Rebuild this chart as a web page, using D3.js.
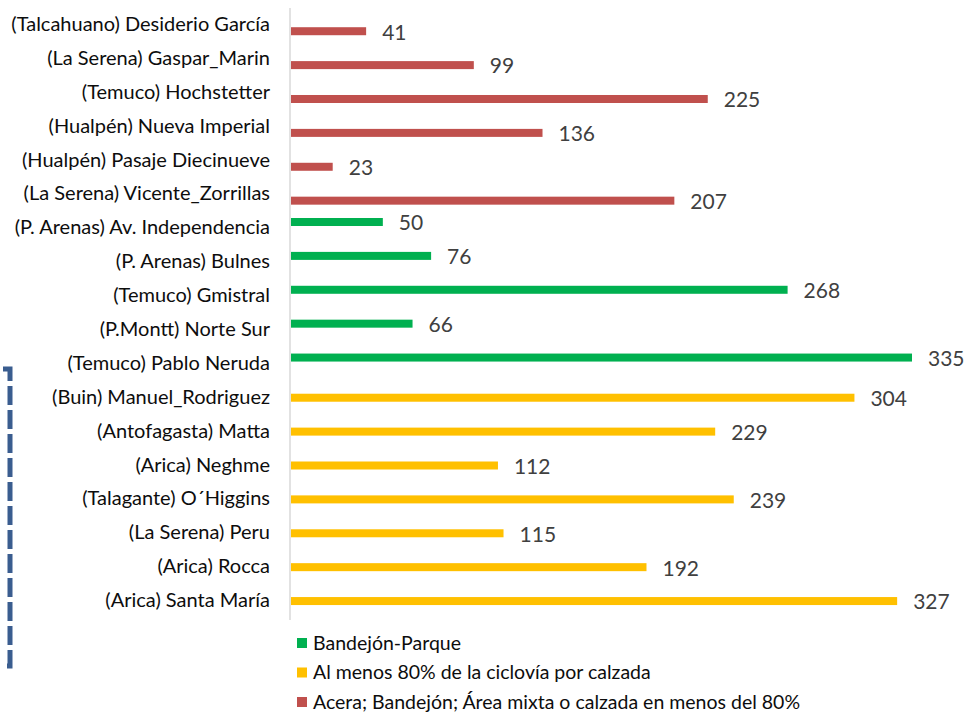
<!DOCTYPE html>
<html><head><meta charset="utf-8">
<script src="https://cdn.jsdelivr.net/npm/d3@7"></script>
<style>body{margin:0;background:#fff}svg{display:block}</style>
</head><body><svg id="c" width="965" height="712"></svg>
<script>
const categories = ["(Talcahuano) Desiderio García","(La Serena) Gaspar_Marin","(Temuco) Hochstetter ","(Hualpén) Nueva Imperial","(Hualpén) Pasaje Diecinueve","(La Serena) Vicente_Zorrillas","(P. Arenas) Av. Independencia","(P. Arenas) Bulnes","(Temuco) Gmistral","(P.Montt) Norte Sur","(Temuco) Pablo Neruda","(Buin) Manuel_Rodriguez","(Antofagasta) Matta","(Arica) Neghme","(Talagante) O´Higgins","(La Serena) Peru","(Arica) Rocca","(Arica) Santa María"];
const values = [41,99,225,136,23,207,50,76,268,66,335,304,229,112,239,115,192,327];
const groups = ["red","red","red","red","red","red","green","green","green","green","green","yellow","yellow","yellow","yellow","yellow","yellow","yellow"];
const seriesKeys = ["green","yellow","red"];
const seriesNames = ["Bandejón-Parque","Al menos 80% de la ciclovía por calzada","Acera; Bandejón; Área mixta o calzada en menos del 80%"];
const colors = {green:"#00b050", yellow:"#ffc000", red:"#c0504d"};

const svg = d3.select("#c");
const font = "Lato, 'Open Sans', sans-serif";
const x0 = 290;
const x = d3.scaleLinear().domain([0,335]).range([x0, 912]);
const y = d3.scaleBand().domain(categories).range([8, 618]).paddingInner(0).paddingOuter(0);
const ys = d3.scaleBand().domain(seriesKeys).range([0, y.bandwidth()]).paddingInner(0).paddingOuter(1.2);

// axis line
svg.append("line").attr("x1",x0).attr("x2",x0).attr("y1",8).attr("y2",620)
  .attr("stroke","#d9d9d9").attr("stroke-width",1.5);

// category labels
svg.append("g").selectAll("text").data(categories).join("text")
  .attr("x",270).attr("y",d=>y(d)+y.bandwidth()/2-1).attr("dy","0.35em")
  .attr("text-anchor","end").attr("font-family",font).attr("font-size",20).attr("fill","#0d0d0d")
  .text(d=>d);

const data = categories.map((c,i)=>({c, v:values[i], g:groups[i]}));
const bh = 8;
svg.append("g").selectAll("rect").data(data).join("rect")
  .attr("x",x0+1).attr("y",d=>y(d.c)+ys(d.g)+ys.bandwidth()/2-bh/2)
  .attr("width",d=>x(d.v)-x0-1).attr("height",bh).attr("fill",d=>colors[d.g]);

svg.append("g").selectAll("text").data(data).join("text")
  .attr("x",d=>x(d.v)+16).attr("y",d=>y(d.c)+ys(d.g)+ys.bandwidth()/2+1).attr("dy","0.35em")
  .attr("font-family",font).attr("font-size",21).attr("fill","#404040")
  .text(d=>d.v);

// legend
const lg = svg.append("g");
seriesKeys.forEach((k,i)=>{
  const ly = 643 + i*29.5;
  lg.append("rect").attr("x",297).attr("y",ly-5).attr("width",10).attr("height",10).attr("fill",colors[k]);
  lg.append("text").attr("x",313).attr("y",ly).attr("dy","0.35em").attr("font-family",font)
    .attr("font-size",19.5).attr("fill","#0d0d0d").text(seriesNames[i]);
});

// dashed bracket
svg.append("path").attr("d","M3,369 H10 V666 H3").attr("fill","none")
  .attr("stroke","#3a5d8f").attr("stroke-width",5).attr("stroke-dasharray","19,5");
</script></body></html>
